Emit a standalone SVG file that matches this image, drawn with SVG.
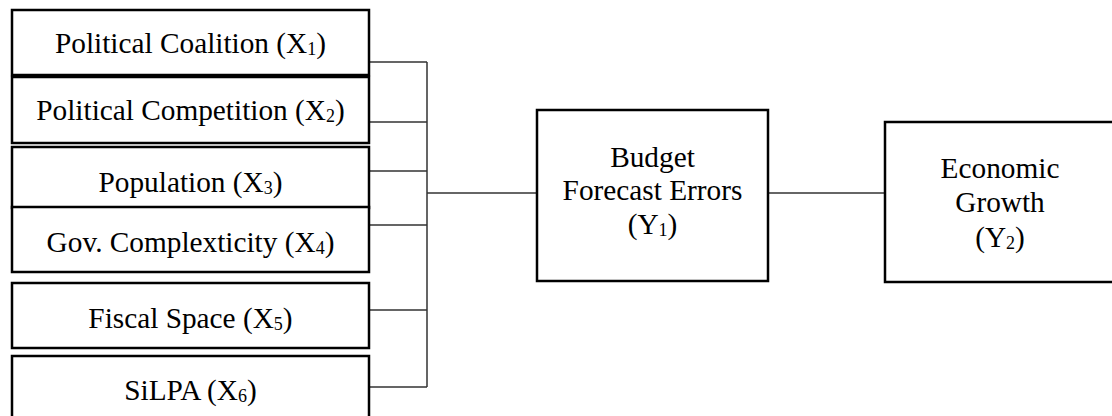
<svg xmlns="http://www.w3.org/2000/svg" width="1112" height="416" viewBox="0 0 1112 416">
<style>
.box{fill:#fff;stroke:#000;stroke-width:2.5}
.t{font-family:"Liberation Serif","Times New Roman",serif;font-size:29.3px;fill:#000;text-anchor:middle}
.s{font-size:18px}
.c{stroke:#333;stroke-width:1.5;fill:none}
</style>
<rect width="1112" height="416" fill="#fff"/>
<g id="connectors">
<path class="c" d="M369 62H427M369 122H427M369 171H427M369 225H427M369 310H427M369 387H427M427 62V387"/>
<path class="c" d="M427 193H537" stroke="#000"/>
<path class="c" d="M768 193H885"/>
</g>
<g id="x1"><rect class="box" x="12" y="10" width="357" height="65"/><text class="t" x="190.5" y="53">Political Coalition (X<tspan class="s" dy="2">1</tspan><tspan dy="-2">)</tspan></text></g>
<g id="x2"><rect class="box" x="12" y="77" width="357" height="66"/><text class="t" x="190.5" y="120">Political Competition (X<tspan class="s" dy="2">2</tspan><tspan dy="-2">)</tspan></text></g>
<g id="x3"><rect class="box" x="12" y="147" width="357" height="61"/><text class="t" x="190.5" y="192">Population (X<tspan class="s" dy="2">3</tspan><tspan dy="-2">)</tspan></text></g>
<g id="x4"><rect class="box" x="12" y="207" width="357" height="65"/><text class="t" x="190.5" y="252">Gov. Complexticity (X<tspan class="s" dy="2">4</tspan><tspan dy="-2">)</tspan></text></g>
<g id="x5"><rect class="box" x="12" y="283" width="357" height="65"/><text class="t" x="190.5" y="328">Fiscal Space (X<tspan class="s" dy="2">5</tspan><tspan dy="-2">)</tspan></text></g>
<g id="x6"><rect class="box" x="12" y="356" width="357" height="80"/><text class="t" x="190.5" y="400">SiLPA (X<tspan class="s" dy="2">6</tspan><tspan dy="-2">)</tspan></text></g>
<g id="y1"><rect class="box" x="537" y="110" width="231" height="171"/>
<text class="t" x="652.5" y="167">Budget</text>
<text class="t" x="652.5" y="200">Forecast Errors</text>
<text class="t" x="652.5" y="234">(Y<tspan class="s" dy="2">1</tspan><tspan dy="-2">)</tspan></text></g>
<g id="y2"><rect class="box" x="885" y="122" width="240" height="160"/>
<text class="t" x="1000" y="178">Economic</text>
<text class="t" x="1000" y="212">Growth</text>
<text class="t" x="1000" y="247">(Y<tspan class="s" dy="2">2</tspan><tspan dy="-2">)</tspan></text></g>
</svg>
